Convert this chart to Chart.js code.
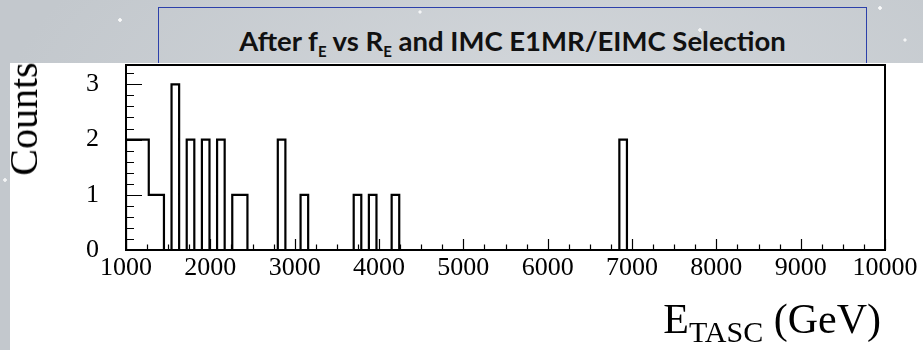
<!DOCTYPE html>
<html>
<head>
<meta charset="utf-8">
<script src="https://cdn.jsdelivr.net/npm/chart.js@4.4.1/dist/chart.umd.min.js"></script>
<style>
  html, body { margin: 0; padding: 0; }
  body {
    width: 923px; height: 350px; position: relative; overflow: hidden;
    background-color: #c7ccd1;
    background-image:
      radial-gradient(circle at 120px 20px, rgba(255,255,255,0.9) 0 1.5px, transparent 2px),
      radial-gradient(circle at 420px 12px, rgba(255,255,255,0.8) 0 1.2px, transparent 2px),
      radial-gradient(circle at 700px 30px, rgba(255,255,255,0.8) 0 1.5px, transparent 2px),
      radial-gradient(circle at 880px 8px, rgba(255,255,255,0.9) 0 1.5px, transparent 2px),
      radial-gradient(circle at 905px 40px, rgba(255,255,255,0.8) 0 1.2px, transparent 2px),
      radial-gradient(circle at 5px 180px, rgba(255,255,255,0.8) 0 1.5px, transparent 2px),
      radial-gradient(ellipse at 60% 30%, #d3d7db 0%, #c3c8cd 70%);
  }
  #panel { position: absolute; left: 10px; top: 63px; width: 913px; height: 287px; background: #ffffff; }
  #titlebox {
    position: absolute; left: 158px; top: 7px; width: 709px; height: 60px;
    border: 1.5px solid #2c40aa; box-sizing: border-box;
  }
  #title {
    position: absolute; left: 158px; top: 41px; width: 709px; text-align: center;
    transform: translateY(-50%);
    font-family: "Lato", "Open Sans", sans-serif; font-weight: 700; font-size: 27.5px; color: #111;
    white-space: nowrap; line-height: 1;
  }
  #title sub { font-size: 15px; vertical-align: -6px; line-height: 0; }
  canvas { position: absolute; left: 0; top: 0; }
  #ytitle {
    position: absolute; left: 24px; top: 119px; transform: translate(-50%, -50%) rotate(-90deg);
    font-family: "Liberation Serif", "Times New Roman", serif; font-size: 40px; color: #000; white-space: nowrap;
    line-height: 1;
  }
  #xtitle {
    position: absolute; right: 42px; top: 296px;
    font-family: "Liberation Serif", "Times New Roman", serif; font-size: 42px; color: #000; white-space: nowrap;
    line-height: 1.1;
  }
  #xtitle sub { font-size: 30px; vertical-align: -9px; line-height: 0; }
</style>
</head>
<body>
<div id="titlebox"></div>
<div id="panel"></div>
<div id="title"><span>After f<sub>E</sub> vs R<sub>E</sub> and IMC E1MR/EIMC Selection</span></div>
<canvas id="c" width="923" height="350"></canvas>
<div id="ytitle">Counts</div>
<div id="xtitle">E<sub>TASC</sub> (GeV)</div>
<script>
// ---- data ----
const xMin = 1000;
const xMax = 10000;
const binWidth = 90;              // 100 bins from 1000 to 10000 GeV
const counts = [
  2, 2, 2, 1, 1, 0, 3, 0, 2, 0,
  2, 0, 2, 0, 1, 1, 0, 0, 0, 0,
  2, 0, 0, 1, 0, 0, 0, 0, 0, 0,
  1, 0, 1, 0, 0, 1, 0, 0, 0, 0,
  0, 0, 0, 0, 0, 0, 0, 0, 0, 0,
  0, 0, 0, 0, 0, 0, 0, 0, 0, 0,
  0, 0, 0, 0, 0, 2, 0, 0, 0, 0,
  0, 0, 0, 0, 0, 0, 0, 0, 0, 0,
  0, 0, 0, 0, 0, 0, 0, 0, 0, 0,
  0, 0, 0, 0, 0, 0, 0, 0, 0, 0
];
const xTicks = [1000, 2000, 3000, 4000, 5000, 6000, 7000, 8000, 9000, 10000];
const yTicks = [0, 1, 2, 3];
const yMax = 3.35;
const xMinorStep = 250;
const yMinorStep = 0.2;

// histogram outline points (step at each bin low edge)
const outline = [{ x: xMin, y: 0 }]
  .concat(counts.map((c, i) => ({ x: xMin + i * binWidth, y: c })))
  .concat([{ x: xMax, y: 0 }]);

const frameAndTicks = {
  id: 'frameAndTicks',
  afterDatasetsDraw(chart) {
    const { ctx, chartArea: a, scales: { x, y } } = chart;
    ctx.save();
    ctx.strokeStyle = '#000';
    ctx.lineWidth = 1.2;
    ctx.beginPath();
    for (let v = xMin; v <= xMax + 1e-6; v += xMinorStep) {
      const px = Math.round(x.getPixelForValue(v)) + 0.5;
      const major = xTicks.includes(v);
      const len = major ? 11 : 5.5;
      ctx.moveTo(px, a.bottom);
      ctx.lineTo(px, a.bottom - len);
    }
    for (let k = 0; k * yMinorStep <= yMax + 1e-9; k++) {
      const v = +(k * yMinorStep).toFixed(6);
      const py = Math.round(y.getPixelForValue(v)) + 0.5;
      const major = yTicks.includes(v);
      const len = major ? 16 : 8;
      ctx.moveTo(a.left, py);
      ctx.lineTo(a.left + len, py);
    }
    ctx.stroke();
    ctx.lineWidth = 2;
    ctx.strokeRect(a.left, a.top, a.right - a.left, a.bottom - a.top);
    ctx.restore();
  }
};

new Chart(document.getElementById('c'), {
  type: 'line',
  data: {
    datasets: [{
      data: outline,
      stepped: true,
      borderColor: '#000',
      borderWidth: 2.2,
      borderJoinStyle: 'miter',
      pointRadius: 0,
      fill: false,
      tension: 0
    }]
  },
  options: {
    responsive: false,
    animation: false,
    devicePixelRatio: 1,
    layout: { padding: { left: 0, top: 65, right: 38, bottom: 0 } },
    plugins: { legend: { display: false }, tooltip: { enabled: false }, title: { display: false } },
    scales: {
      x: {
        type: 'linear', min: xMin, max: xMax,
        afterBuildTicks: s => { s.ticks = xTicks.map(v => ({ value: v })); },
        afterFit: s => { s.height = 100; },
        grid: { display: false, drawTicks: false },
        border: { display: false },
        ticks: {
          maxRotation: 0, autoSkip: false, padding: 3, color: '#000',
          font: { family: '"Liberation Serif", "Times New Roman", serif', size: 26 },
          callback: v => String(v)
        }
      },
      y: {
        type: 'linear', min: 0, max: yMax,
        afterBuildTicks: s => { s.ticks = yTicks.map(v => ({ value: v })); },
        afterFit: s => { s.width = 126; },
        grid: { display: false, drawTicks: false },
        border: { display: false },
        ticks: {
          padding: 27, color: '#000',
          font: { family: '"Liberation Serif", "Times New Roman", serif', size: 26 },
          callback: v => String(v)
        }
      }
    }
  },
  plugins: [frameAndTicks]
});
</script>
</body>
</html>
